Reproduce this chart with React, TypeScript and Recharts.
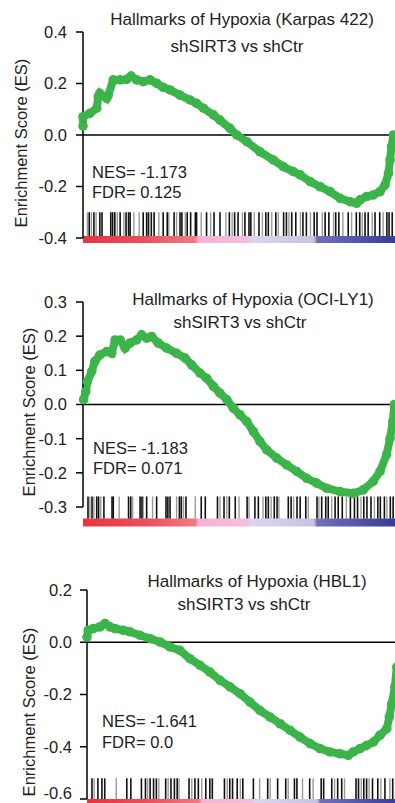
import React from "react"
import {
  ComposedChart,
  Line,
  XAxis,
  YAxis,
  ReferenceLine,
  ReferenceArea,
} from "recharts"

const FONT = "'Liberation Sans', Arial, sans-serif"
const GREEN = "#3bb54a"

// --- Karpas 422 ---
const karpasRank = [0, 0, 2.2, 4.4, 4.9, 5.4, 7.6, 8.1, 9.7, 11.9, 14.0, 15.4, 17.2, 19.3, 21.5, 23.6, 25.7, 27.9, 31.1, 34.3, 36.4, 38.6, 41.8, 43.9, 47.1, 49.3, 52.5, 56.7, 61.0, 64.2, 67.4, 69.6, 72.8, 76.0, 79.2, 82.4, 85.6, 87.7, 88.8, 90.9, 93.0, 95.2, 96.8, 97.9, 98.4, 98.9, 99.5]
const karpasEs = [0.035, 0.071, 0.084, 0.104, 0.149, 0.162, 0.142, 0.155, 0.214, 0.214, 0.216, 0.229, 0.214, 0.207, 0.214, 0.201, 0.185, 0.175, 0.155, 0.136, 0.123, 0.104, 0.078, 0.058, 0.026, 0.0, -0.026, -0.065, -0.097, -0.123, -0.142, -0.155, -0.181, -0.201, -0.22, -0.246, -0.259, -0.265, -0.252, -0.239, -0.233, -0.22, -0.194, -0.149, -0.097, -0.045, 0.0]
const karpasHitsDark = [2.0, 3.5, 5.4, 6.1, 8.9, 9.5, 10.2, 11.9, 13.8, 14.6, 15.1, 19.3, 20.4, 21.0, 21.9, 22.8, 25.7, 27.0, 29.2, 31.1, 31.7, 33.4, 34.5, 36.0, 36.4, 39.6, 42.0, 43.9, 46.9, 48.6, 49.7, 51.9, 53.2, 53.8, 56.4, 58.6, 59.4, 61.8, 64.3, 65.2, 66.9, 68.2, 70.5, 71.6, 74.1, 75.0, 77.6, 78.8, 81.0, 82.0, 85.0, 87.6, 88.7, 90.4, 91.4, 93.6, 95.1, 97.4, 98.1, 99.1]
const karpasHitsLight = [1.4, 2.7, 4.2, 11.0, 13.1, 16.3, 18.0, 24.3, 27.5, 30.0, 32.8, 37.9, 40.9, 45.8, 47.8, 51.1, 54.9, 57.5, 60.5, 62.6, 66.0, 69.7, 72.9, 76.7, 80.3, 83.3, 86.1, 89.5, 92.7, 96.2]
const karpasTicks = [0.4, 0.2, 0, -0.2, -0.4]

// --- OCI-LY1 ---
const ociRank = [0.2, 0.9, 1.4, 2.8, 3.8, 5.4, 7.6, 9.2, 10.3, 11.9, 13.5, 15.1, 17.2, 18.8, 20.4, 22.0, 24.1, 26.8, 30.0, 32.7, 34.8, 37.5, 39.6, 41.8, 43.9, 46.1, 48.2, 50.3, 52.5, 54.6, 56.7, 58.9, 62.1, 65.3, 68.5, 71.7, 74.9, 78.1, 82.4, 86.6, 89.8, 93.0, 95.2, 97.3, 98.4, 99.3, 99.8]
const ociEs = [0.014, 0.038, 0.067, 0.097, 0.126, 0.145, 0.155, 0.15, 0.189, 0.189, 0.165, 0.18, 0.189, 0.204, 0.194, 0.199, 0.18, 0.165, 0.15, 0.136, 0.116, 0.092, 0.077, 0.053, 0.033, 0.014, -0.011, -0.03, -0.05, -0.079, -0.108, -0.133, -0.157, -0.177, -0.196, -0.216, -0.23, -0.245, -0.255, -0.26, -0.25, -0.225, -0.196, -0.147, -0.099, -0.05, 0.0]
const ociHitsDark = [1.6, 2.9, 4.4, 5.0, 6.7, 9.3, 9.7, 14.6, 15.3, 18.3, 18.9, 20.4, 23.6, 26.6, 27.2, 27.9, 30.9, 31.5, 33.0, 37.9, 39.2, 43.1, 45.2, 46.9, 48.8, 52.6, 55.1, 56.2, 58.6, 59.4, 61.3, 62.2, 65.8, 66.7, 68.6, 69.6, 71.4, 75.0, 76.5, 77.8, 78.6, 80.8, 81.8, 83.1, 85.7, 87.0, 88.0, 90.0, 91.0, 92.3, 94.5, 95.3, 96.6, 98.5, 99.4]
const ociHitsLight = [2.2, 3.5, 5.7, 11.6, 15.9, 19.3, 22.3, 30.0, 32.2, 36.0, 43.9, 46.1, 50.0, 53.2, 57.7, 60.3, 62.8, 67.5, 72.2, 75.6, 79.7, 84.4, 89.1, 93.4, 97.4]
const ociTicks = [0.3, 0.2, 0.1, 0, -0.1, -0.2, -0.3]

// --- HBL1 ---
const hblRank = [0, 0.4, 2.0, 4.2, 5.8, 7.4, 9.0, 11.7, 13.8, 17.0, 20.3, 23.5, 26.7, 29.9, 33.1, 36.3, 39.5, 42.8, 46.0, 49.2, 52.4, 55.6, 58.8, 62.1, 65.3, 68.5, 71.7, 74.9, 78.1, 81.4, 84.0, 85.6, 87.8, 89.9, 92.1, 94.2, 96.4, 97.2, 98.0, 99.0, 99.6]
const hblEs = [0.02, 0.046, 0.052, 0.059, 0.072, 0.059, 0.052, 0.046, 0.04, 0.027, 0.014, 0.001, -0.018, -0.031, -0.063, -0.088, -0.114, -0.146, -0.171, -0.197, -0.229, -0.261, -0.286, -0.312, -0.337, -0.363, -0.388, -0.407, -0.42, -0.427, -0.433, -0.42, -0.407, -0.395, -0.382, -0.356, -0.331, -0.286, -0.235, -0.171, -0.095]
const hblHitsDark = [1.6, 3.5, 4.8, 5.7, 12.8, 14.1, 17.5, 18.8, 20.3, 21.4, 22.3, 25.3, 27.0, 28.1, 29.0, 32.8, 34.7, 35.8, 38.2, 39.5, 40.3, 44.2, 45.9, 46.8, 48.3, 50.1, 53.5, 58.1, 61.3, 63.9, 66.7, 67.5, 71.6, 75.3, 76.1, 78.7, 80.6, 81.9, 86.5, 87.3, 89.0, 89.9, 91.8, 93.5, 95.8, 98.3]
const hblHitsLight = [2.3, 9.4, 19.5, 23.1, 26.1, 29.6, 33.7, 36.9, 45.1, 49.3, 55.5, 58.9, 64.7, 69.3, 72.7, 79.6, 82.8, 88.2, 90.7, 94.5, 97.4]
const hblTicks = [0.2, 0, -0.2, -0.4, -0.6]

const toData = (rank: number[], es: number[]) => rank.map((r, i) => ({ rank: r, es: es[i] }))

function RankStops() {
  return (
    <>
      <stop offset="0" stopColor="#e8333d" />
      <stop offset="0.2" stopColor="#ec4f5e" />
      <stop offset="0.36" stopColor="#f07a82" />
      <stop offset="0.37" stopColor="#f5b3d3" />
      <stop offset="0.53" stopColor="#f2c0dc" />
      <stop offset="0.54" stopColor="#dad6ee" />
      <stop offset="0.74" stopColor="#c6c3e3" />
      <stop offset="0.75" stopColor="#7270ba" />
      <stop offset="1" stopColor="#3a3a98" />
    </>
  )
}

interface PanelProps {
  id: string
  data: { rank: number; es: number }[]
  ticks: number[]
  hitsDark: number[]
  hitsLight: number[]
  barTop: number
  barBottom: number
  stripBottom: number
  width: number
  height: number
  margin: { top: number; right: number; bottom: number; left: number }
  axisWidth: number
  tickMargin: number
}

function GseaPanel(p: PanelProps) {
  const lo = p.ticks[p.ticks.length - 1]
  const hi = p.ticks[0]
  return (
    <ComposedChart width={p.width} height={p.height} data={p.data} margin={p.margin}>
      <defs>
        <linearGradient id={p.id} x1="0" y1="0" x2="1" y2="0">
          <RankStops />
        </linearGradient>
      </defs>
      <XAxis type="number" dataKey="rank" domain={[0, 100]} hide />
      <YAxis
        type="number"
        domain={[lo, hi]}
        ticks={p.ticks}
        width={p.axisWidth}
        tickSize={7}
        tickMargin={p.tickMargin}
        tickFormatter={(v: number) => v.toFixed(1)}
        tick={{ fill: "#222", fontSize: 16.5, fontFamily: FONT }}
        axisLine={{ stroke: "#000", strokeWidth: 1.5 }}
        tickLine={{ stroke: "#000", strokeWidth: 1.5 }}
      />
      <ReferenceArea
        x1={0}
        x2={100}
        y1={p.stripBottom}
        y2={p.barBottom}
        fill={`url(#${p.id})`}
        fillOpacity={1}
        stroke="none"
        ifOverflow="visible"
      />
      {p.hitsLight.map((r) => (
        <ReferenceLine
          key={"l" + r}
          segment={[{ x: r, y: p.barTop }, { x: r, y: p.barBottom }]}
          stroke="#9a9a9a"
          strokeWidth={1.4}
          ifOverflow="visible"
        />
      ))}
      {p.hitsDark.map((r) => (
        <ReferenceLine
          key={"d" + r}
          segment={[{ x: r, y: p.barTop }, { x: r, y: p.barBottom }]}
          stroke="#111"
          strokeWidth={1.6}
          ifOverflow="visible"
        />
      ))}
      <ReferenceLine y={0} stroke="#000" strokeWidth={1.5} />
      <Line
        type="linear"
        dataKey="es"
        stroke={GREEN}
        strokeWidth={8}
        dot={{ r: 4.8, fill: GREEN, stroke: "none" }}
        isAnimationActive={false}
      />
    </ComposedChart>
  )
}

const txt: React.CSSProperties = {
  position: "absolute",
  fontFamily: FONT,
  color: "#222",
  whiteSpace: "nowrap",
  lineHeight: "20px",
}

function Centered({ cx, cy, size, children }: { cx: number; cy: number; size: number; children: React.ReactNode }) {
  return (
    <div style={{ ...txt, fontSize: size, left: cx - 160, width: 320, top: cy - 10, textAlign: "center" }}>{children}</div>
  )
}

function Left({ x, cy, children }: { x: number; cy: number; children: React.ReactNode }) {
  return <div style={{ ...txt, fontSize: 16.5, left: x, top: cy - 10 }}>{children}</div>
}

function YLabel({ cx, cy }: { cx: number; cy: number }) {
  return (
    <div
      style={{
        ...txt,
        fontSize: 16.5,
        left: cx - 110,
        width: 220,
        top: cy - 10,
        textAlign: "center",
        transform: "rotate(-90deg)",
      }}
    >
      Enrichment Score (ES)
    </div>
  )
}

export default function App() {
  return (
    <div style={{ position: "absolute", left: 0, top: 0, width: 395, height: 803, overflow: "hidden", background: "#fff" }}>
      <div style={{ position: "absolute", left: 0, top: 0 }}>
        <GseaPanel
          id="rank1"
          data={toData(karpasRank, karpasEs)}
          ticks={karpasTicks}
          hitsDark={karpasHitsDark}
          hitsLight={karpasHitsLight}
          barTop={-0.3}
          barBottom={-0.392}
          stripBottom={-0.419}
          width={395}
          height={250}
          margin={{ top: 32, right: 0, bottom: 12, left: 0 }}
          axisWidth={83}
          tickMargin={9}
        />
      </div>
      <div style={{ position: "absolute", left: 0, top: 270 }}>
        <GseaPanel
          id="rank2"
          data={toData(ociRank, ociEs)}
          ticks={ociTicks}
          hitsDark={ociHitsDark}
          hitsLight={ociHitsLight}
          barTop={-0.269}
          barBottom={-0.334}
          stripBottom={-0.357}
          width={395}
          height={260}
          margin={{ top: 32, right: 0, bottom: 23, left: 0 }}
          axisWidth={83}
          tickMargin={9}
        />
      </div>
      <div style={{ position: "absolute", left: 0, top: 550 }}>
        <GseaPanel
          id="rank3"
          data={toData(hblRank, hblEs)}
          ticks={hblTicks}
          hitsDark={hblHitsDark}
          hitsLight={hblHitsLight}
          barTop={-0.521}
          barBottom={-0.6}
          stripBottom={-0.625}
          width={398}
          height={253}
          margin={{ top: 40, right: 0, bottom: 4, left: 0 }}
          axisWidth={87}
          tickMargin={8}
        />
      </div>

      <Centered cx={242} cy={20} size={17}>Hallmarks of Hypoxia (Karpas 422)</Centered>
      <Centered cx={237} cy={47} size={17}>shSIRT3 vs shCtr</Centered>
      <Left x={92} cy={172}>NES= -1.173</Left>
      <Left x={92} cy={192}>FDR= 0.125</Left>
      <YLabel cx={21} cy={143} />

      <Centered cx={253} cy={300} size={17}>Hallmarks of Hypoxia (OCI-LY1)</Centered>
      <Centered cx={240} cy={323} size={17}>shSIRT3 vs shCtr</Centered>
      <Left x={93} cy={448}>NES= -1.183</Left>
      <Left x={93} cy={468}>FDR= 0.071</Left>
      <YLabel cx={29} cy={412} />

      <Centered cx={257} cy={582} size={17}>Hallmarks of Hypoxia (HBL1)</Centered>
      <Centered cx={244} cy={605} size={17}>shSIRT3 vs shCtr</Centered>
      <Left x={102} cy={721}>NES= -1.641</Left>
      <Left x={102} cy={742}>FDR= 0.0</Left>
      <YLabel cx={29} cy={712} />
    </div>
  )
}
